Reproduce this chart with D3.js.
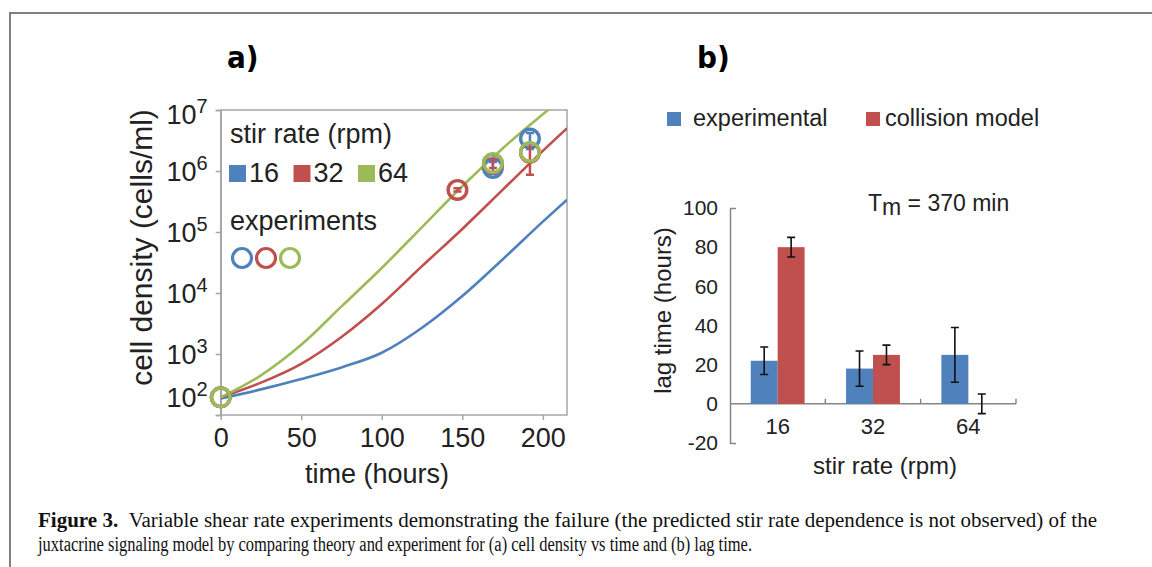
<!DOCTYPE html>
<html>
<head>
<meta charset="utf-8">
<script src="https://cdn.jsdelivr.net/npm/d3@7"></script>
<style>
  body { margin: 0; background: #fff; }
  svg { display: block; }
</style>
</head>
<body>
<div id="vis"></div>
<script>
// ---- panel a: model curves (cells/ml) ----
const modelTime = [0, 25, 50, 75, 100, 125, 150, 175, 200, 215];
const model16 = [186, 263, 389, 603, 1047, 2692, 8913, 35480, 147900, 338800];
const model32 = [195, 339, 690, 1900, 6600, 27540, 112200, 489800, 2138000, 5012000];
const model64 = [195, 447, 1413, 6026, 25700, 120200, 562300, 2344000, 8511000, 17780000];

// ---- panel a: experiments ----
const expTime16 = [0, 169, 192];
const exp16 = [195, 1120000, 3400000];
const expLo16 = [195, 900000, 2300000];
const expHi16 = [195, 1400000, 4200000];
const expTime32 = [0, 147, 169, 192];
const exp32 = [195, 490000, 1320000, 2000000];
const expLo32 = [195, 460000, 1120000, 870000];
const expHi32 = [195, 520000, 1550000, 2800000];
const expTime64 = [0, 169, 192];
const exp64 = [195, 1350000, 2050000];

const stirRates = ["16", "32", "64"];
const xTicksA = [0, 50, 100, 150, 200];
const yTicksA = [1e2, 1e3, 1e4, 1e5, 1e6, 1e7];

// ---- panel b: lag time (hours) ----
const lagSeries = ["experimental", "collision model"];
const lagExp = [22, 18, 25];
const lagExpLo = [15, 9, 11];
const lagExpHi = [29, 27, 39];
const lagModel = [80, 25, 0];
const lagModelLo = [75, 20, -5];
const lagModelHi = [85, 30, 5];
const yTicksB = [-20, 0, 20, 40, 60, 80, 100];

const colors = ["#4f81bd", "#c0504d", "#9bbb59"];
const sans = "'Liberation Sans', Arial, sans-serif";

function drawFigure(){
  const size = {width: 1152, height: 567};

  const svg = d3.select("#vis")
    .append("svg")
    .attr("viewBox", [0, 0, size.width, size.height])
    .style("width", `${size.width}px`)
    .style("height", `${size.height}px`);

  // frame
  svg.append("path")
    .attr("d", `M10,${size.height} V13 H${size.width}`)
    .attr("fill", "none")
    .attr("stroke", "#808080")
    .attr("stroke-width", 2);

  // panel letters
  svg.selectAll(".panel-letter")
    .data([["a)", 227], ["b)", 697]])
    .join("text")
    .attr("class", "panel-letter")
    .attr("x", d => d[1])
    .attr("y", 68)
    .style("font-family", "'Liberation Sans Narrow', 'DejaVu Sans Condensed', sans-serif")
    .style("font-stretch", "condensed")
    .style("font-weight", "bold")
    .style("font-size", "31px")
    .text(d => d[0]);

  drawDensity(svg.append("g"));
  drawLag(svg.append("g"));
  drawCaption(svg.append("g"));
}

function drawDensity(g){
  const margin = {left: 220.7, right: 567, top: 110, bottom: 415};

  const x = d3.scaleLinear()
    .domain([0, 215])
    .range([margin.left, margin.right]);

  const y = d3.scaleLog()
    .domain([1e2, 1e7])
    .range([margin.bottom, margin.top]);

  // plot box
  g.append("rect")
    .attr("x", x(0))
    .attr("y", y(1e7))
    .attr("width", x(215) - x(0))
    .attr("height", y(1e2) - y(1e7))
    .attr("fill", "none")
    .attr("stroke", "#a6a6a6")
    .attr("stroke-width", 1.5);

  const yAxis = g.append("g")
    .attr("transform", `translate(${x(0)},0)`)
    .call(d3.axisLeft(y).tickValues(yTicksA).tickSize(5).tickPadding(8).tickFormat(""));
  yAxis.select(".domain").attr("stroke", "#a6a6a6").attr("stroke-width", 1.5);
  yAxis.selectAll(".tick line").attr("stroke", "#a6a6a6").attr("stroke-width", 1.5);
  yAxis.selectAll(".tick text")
    .attr("dy", d => d === 1e2 ? "-0.32em" : d === 1e7 ? "0.5em" : "0.35em")
    .style("font-family", sans)
    .style("font-size", "27px")
    .style("fill", "#222")
    .each(function(d){
      const t = d3.select(this);
      t.append("tspan").text("10");
      t.append("tspan")
        .attr("dy", "-0.55em")
        .style("font-size", "20px")
        .text(Math.round(Math.log10(d)));
    });

  const xAxis = g.append("g")
    .attr("transform", `translate(0,${y(1e2)})`)
    .call(d3.axisBottom(x).tickValues(xTicksA).tickSize(5).tickPadding(8));
  xAxis.select(".domain").remove();
  xAxis.selectAll(".tick line").attr("stroke", "#a6a6a6").attr("stroke-width", 1.5);
  xAxis.selectAll(".tick text")
    .style("font-family", sans)
    .style("font-size", "27px")
    .style("fill", "#222");

  // axis titles
  g.append("text")
    .attr("text-anchor", "middle")
    .attr("transform", `translate(152,${(y(1e7) + y(1e2)) / 2 - 15}) rotate(-90)`)
    .style("font-family", sans)
    .style("font-size", "30px")
    .style("fill", "#222")
    .text("cell density (cells/ml)");

  g.append("text")
    .attr("text-anchor", "middle")
    .attr("x", 377)
    .attr("y", 483)
    .style("font-family", sans)
    .style("font-size", "27px")
    .style("fill", "#222")
    .text("time (hours)");

  // model curves, clipped to the box
  g.append("clipPath")
    .attr("id", "clip-a")
    .append("rect")
    .attr("x", x(0))
    .attr("y", y(1e7))
    .attr("width", x(215) - x(0))
    .attr("height", y(1e2) - y(1e7));

  const line = d3.line()
    .x((d, i) => x(modelTime[i]))
    .y(d => y(d))
    .curve(d3.curveMonotoneX);

  g.append("g")
    .attr("clip-path", "url(#clip-a)")
    .selectAll("path")
    .data([model16, model32, model64])
    .join("path")
    .attr("d", line)
    .attr("fill", "none")
    .attr("stroke", (d, i) => colors[i])
    .attr("stroke-width", 2.6);

  // experiments
  const expSets = [
    {t: expTime16, v: exp16, lo: expLo16, hi: expHi16, c: colors[0]},
    {t: expTime32, v: exp32, lo: expLo32, hi: expHi32, c: colors[1]},
    {t: expTime64, v: exp64, lo: exp64, hi: exp64, c: colors[2]}
  ];
  expSets.forEach(s => {
    const pts = s.t.map((t, i) => ({t, v: s.v[i], lo: s.lo[i], hi: s.hi[i]}));
    const eg = g.append("g").attr("stroke", s.c).attr("fill", "none").attr("stroke-width", 2.5);
    eg.selectAll(".err")
      .data(pts.filter(p => p.hi > p.lo))
      .join("path")
      .attr("d", p => `M${x(p.t)},${y(p.lo)}V${y(p.hi)}M${x(p.t) - 4},${y(p.lo)}h8M${x(p.t) - 4},${y(p.hi)}h8`);
    eg.selectAll("circle")
      .data(pts)
      .join("circle")
      .attr("cx", p => x(p.t))
      .attr("cy", p => y(p.v))
      .attr("r", 9.3)
      .attr("stroke-width", 3.4);
  });

  // legend
  const lg = g.append("g").style("font-family", sans).style("font-size", "27px").style("fill", "#222");
  lg.append("text").attr("x", 230).attr("y", 143).text("stir rate (rpm)");
  const item = lg.selectAll(".item")
    .data(stirRates)
    .join("g")
    .attr("class", "item")
    .attr("transform", (d, i) => `translate(${229 + i * 64.5},165)`);
  item.append("rect")
    .attr("width", 17)
    .attr("height", 17)
    .attr("fill", (d, i) => colors[i]);
  item.append("text")
    .attr("x", 20)
    .attr("y", 17)
    .text(d => d);

  lg.append("text").attr("x", 230).attr("y", 230).text("experiments");
  lg.selectAll(".exp-key")
    .data(colors)
    .join("circle")
    .attr("class", "exp-key")
    .attr("cx", (d, i) => 242 + i * 24)
    .attr("cy", 258)
    .attr("r", 9.5)
    .attr("fill", "none")
    .attr("stroke", d => d)
    .attr("stroke-width", 3.2);
}

function drawLag(g){
  const margin = {left: 730, right: 1016, top: 208, bottom: 443};

  const y = d3.scaleLinear()
    .domain([-20, 100])
    .range([margin.bottom, margin.top]);

  const x0 = d3.scaleBand()
    .domain(stirRates)
    .range([margin.left, margin.right]);

  const x1 = d3.scaleBand()
    .domain(lagSeries)
    .range([0, x0.bandwidth()])
    .paddingInner(0)
    .paddingOuter(0.77);

  const axisColor = "#868686";

  const yAxis = g.append("g")
    .attr("transform", `translate(${margin.left},0)`)
    .call(d3.axisLeft(y).tickValues(yTicksB).tickSize(0).tickPadding(12).tickFormat(d => String(d)));
  yAxis.select(".domain").attr("stroke", axisColor).attr("stroke-width", 1.5);
  yAxis.selectAll(".tick text")
    .style("font-family", sans)
    .style("font-size", "21px")
    .style("fill", "#222");
  yAxis.selectAll(".tick")
    .filter(d => d === 100 || d === -20)
    .append("line")
    .attr("x2", 6)
    .attr("stroke", axisColor)
    .attr("stroke-width", 1.5);

  // zero line with category boundary ticks
  g.append("line")
    .attr("x1", margin.left)
    .attr("x2", margin.right)
    .attr("y1", y(0))
    .attr("y2", y(0))
    .attr("stroke", axisColor)
    .attr("stroke-width", 1.5);
  g.selectAll(".cat-tick")
    .data(stirRates)
    .join("line")
    .attr("class", "cat-tick")
    .attr("x1", d => x0(d) + x0.step())
    .attr("x2", d => x0(d) + x0.step())
    .attr("y1", y(0))
    .attr("y2", y(0) - 5)
    .attr("stroke", axisColor)
    .attr("stroke-width", 1.5);

  const xAxis = g.append("g")
    .attr("transform", `translate(0,${y(0)})`)
    .call(d3.axisBottom(x0).tickSize(0).tickPadding(15));
  xAxis.select(".domain").remove();
  xAxis.selectAll(".tick text")
    .style("font-family", sans)
    .style("font-size", "22px")
    .style("fill", "#222");

  // bars
  const rows = [];
  stirRates.forEach((r, i) => {
    rows.push({rate: r, s: lagSeries[0], v: lagExp[i], lo: lagExpLo[i], hi: lagExpHi[i], c: colors[0]});
    rows.push({rate: r, s: lagSeries[1], v: lagModel[i], lo: lagModelLo[i], hi: lagModelHi[i], c: colors[1]});
  });

  g.selectAll(".bar")
    .data(rows)
    .join("rect")
    .attr("class", "bar")
    .attr("x", d => x0(d.rate) + x1(d.s))
    .attr("y", d => y(Math.max(0, d.v)))
    .attr("width", x1.bandwidth())
    .attr("height", d => Math.abs(y(d.v) - y(0)))
    .attr("fill", d => d.c);

  g.selectAll(".errbar")
    .data(rows)
    .join("path")
    .attr("class", "errbar")
    .attr("d", d => {
      const cx = x0(d.rate) + x1(d.s) + x1.bandwidth() / 2;
      return `M${cx},${y(d.lo)}V${y(d.hi)}M${cx - 4},${y(d.lo)}h8M${cx - 4},${y(d.hi)}h8`;
    })
    .attr("fill", "none")
    .attr("stroke", "#111")
    .attr("stroke-width", 1.6);

  // axis titles
  g.append("text")
    .attr("text-anchor", "middle")
    .attr("transform", `translate(671,${(y(100) + y(-20)) / 2 - 15}) rotate(-90)`)
    .style("font-family", sans)
    .style("font-size", "24px")
    .style("fill", "#222")
    .text("lag time (hours)");

  g.append("text")
    .attr("text-anchor", "middle")
    .attr("x", 885)
    .attr("y", 474)
    .style("font-family", sans)
    .style("font-size", "24px")
    .style("fill", "#222")
    .text("stir rate (rpm)");

  // Tm note
  const tm = g.append("text")
    .attr("x", 868)
    .attr("y", 211)
    .style("font-family", sans)
    .style("font-size", "23px")
    .style("fill", "#222");
  tm.append("tspan").text("T");
  tm.append("tspan").attr("dy", 4).text("m");
  tm.append("tspan").attr("dy", -4).text(" = 370 min");

  // legend
  const lg = g.selectAll(".lag-key")
    .data(lagSeries)
    .join("g")
    .attr("class", "lag-key")
    .attr("transform", (d, i) => `translate(${667 + i * 199},112)`);
  lg.append("rect")
    .attr("width", 14)
    .attr("height", 14)
    .attr("fill", (d, i) => colors[i]);
  lg.append("text")
    .attr("x", (d, i) => i === 0 ? 26 : 19)
    .attr("y", 14)
    .style("font-family", sans)
    .style("font-size", "23.5px")
    .style("fill", "#222")
    .text(d => d);
}

function drawCaption(g){
  const serif = "'Liberation Serif', 'Times New Roman', serif";
  const l1 = g.append("text")
    .attr("x", 38)
    .attr("y", 527)
    .attr("textLength", 1059)
    .attr("lengthAdjust", "spacingAndGlyphs")
    .style("font-family", serif)
    .style("font-size", "20px")
    .style("fill", "#111");
  l1.append("tspan").style("font-weight", "bold").text("Figure 3.");
  l1.append("tspan").text("\u2002Variable shear rate experiments demonstrating the failure (the predicted stir rate dependence is not observed) of the");

  g.append("text")
    .attr("x", 38)
    .attr("y", 551)
    .attr("textLength", 714)
    .attr("lengthAdjust", "spacingAndGlyphs")
    .style("font-family", serif)
    .style("font-size", "20px")
    .style("fill", "#111")
    .text("juxtacrine signaling model by comparing theory and experiment for (a) cell density vs time and (b) lag time.");
}

drawFigure();
</script>
</body>
</html>
